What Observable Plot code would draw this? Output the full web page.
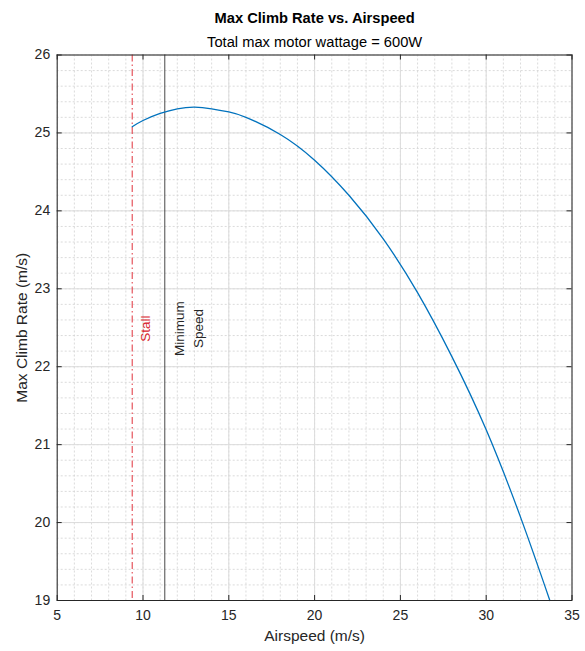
<!DOCTYPE html>
<html><head><meta charset="utf-8">
<script src="https://cdn.jsdelivr.net/npm/d3@7"></script>
<script src="https://cdn.jsdelivr.net/npm/@observablehq/plot@0.6"></script>
<style>body{margin:0;background:#fff;}</style>
</head><body><div id="chart"></div>
<script>
// Data
const airspeed  = [9.37, 10, 11, 12, 13, 14, 15, 16, 18, 20, 22, 24, 26, 28, 30, 32, 33.71];
const climbRate = [25.08, 25.16, 25.25, 25.31, 25.33, 25.31, 25.27, 25.20, 24.98, 24.65, 24.20, 23.64, 22.95, 22.13, 21.19, 20.07, 19.0];
const stallSpeed = [9.37];
const minSpeed = [11.27];
const xTicks = [5, 10, 15, 20, 25, 30, 35];
const yTicks = [19, 20, 21, 22, 23, 24, 25, 26];
const xMinor = d3.range(5, 35.001, 1);
const yMinor = d3.range(19, 26.001, 0.2);
const titleText = "Max Climb Rate vs. Airspeed";
const subtitleText = "Total max motor wattage = 600W";
const xLabel = "Airspeed (m/s)";
const yLabel = "Max Climb Rate (m/s)";
const stallLabel = "Stall";
const minLabel = "Minimum\nSpeed";

const curve = airspeed.map((v, i) => ({v, c: climbRate[i]}));

const W = 585, H = 651;
const mL = 56.7, mR = 13.5, mT = 54.5, mB = 51;
const pW = W - mL - mR, pH = H - mT - mB;
const axisColor = "#262626";
const font = "Liberation Sans, Arial, Helvetica, sans-serif";

const chart = Plot.plot({
  width: W, height: H,
  marginLeft: mL, marginRight: mR, marginTop: mT, marginBottom: mB,
  style: {fontFamily: font, fontSize: "13px", color: axisColor, background: "#fff"},
  x: {domain: [5, 35]},
  y: {domain: [19, 26]},
  marks: [
    // minor grid
    Plot.ruleX(xMinor, {stroke: "#d2d2d2", strokeDasharray: "2,2", strokeWidth: 0.8}),
    Plot.ruleY(yMinor, {stroke: "#d2d2d2", strokeDasharray: "2,2", strokeWidth: 0.8}),
    // major grid
    Plot.ruleX(xTicks, {stroke: "#dcdcdc", strokeWidth: 1}),
    Plot.ruleY(yTicks, {stroke: "#dcdcdc", strokeWidth: 1}),
    // reference lines
    Plot.ruleX(stallSpeed, {stroke: "#e0303a", strokeWidth: 1, strokeDasharray: "7,3,1.5,3"}),
    Plot.ruleX(minSpeed, {stroke: "#333", strokeWidth: 0.9}),
    // data curve
    Plot.line(curve, {x: "v", y: "c", curve: "natural", stroke: "#0072BD", strokeWidth: 1.3}),
    // annotations
    Plot.text(stallSpeed, {x: d => d, y: 22.49, text: () => stallLabel, rotate: -90, dx: 13.5, fill: "#d9262e", fontSize: 13.5, textAnchor: "middle", lineAnchor: "middle"}),
    Plot.text(minSpeed, {x: d => d, y: 22.49, text: () => minLabel, rotate: -90, dx: 23, fill: "#262626", fontSize: 13.5, textAnchor: "middle", lineAnchor: "middle", lineHeight: 1.4}),
    // frame and inward ticks
    Plot.frame({stroke: axisColor, strokeWidth: 1}),
    Plot.ruleX(xTicks, {insetTop: pH - 5, stroke: axisColor}),
    Plot.ruleX(xTicks, {insetBottom: pH - 5, stroke: axisColor}),
    Plot.ruleY(yTicks, {insetRight: pW - 5, stroke: axisColor}),
    Plot.ruleY(yTicks, {insetLeft: pW - 5, stroke: axisColor}),
    // axes labels
    Plot.axisX({ticks: xTicks, tickSize: 0, tickPadding: 10, fontSize: 14, label: null, tickFormat: d => String(d)}),
    Plot.axisY({ticks: yTicks, tickSize: 0, tickPadding: 7, fontSize: 14, label: null, tickFormat: d => String(d)}),
    Plot.text([xLabel], {frameAnchor: "bottom", dy: 36, text: d => d, fontSize: 15.5, textAnchor: "middle", lineAnchor: "middle", fill: axisColor}),
    Plot.text([yLabel], {frameAnchor: "left", dx: -35, rotate: -90, text: d => d, fontSize: 15.5, textAnchor: "middle", lineAnchor: "middle", fill: axisColor}),
    Plot.text([titleText], {frameAnchor: "top", dy: -37, text: d => d, fontSize: 14.7, fontWeight: "bold", textAnchor: "middle", lineAnchor: "middle", fill: "#000"}),
    Plot.text([subtitleText], {frameAnchor: "top", dy: -13, text: d => d, fontSize: 14.7, textAnchor: "middle", lineAnchor: "middle", fill: "#000"})
  ]
});
document.getElementById("chart").appendChild(chart);
</script>
</body></html>
